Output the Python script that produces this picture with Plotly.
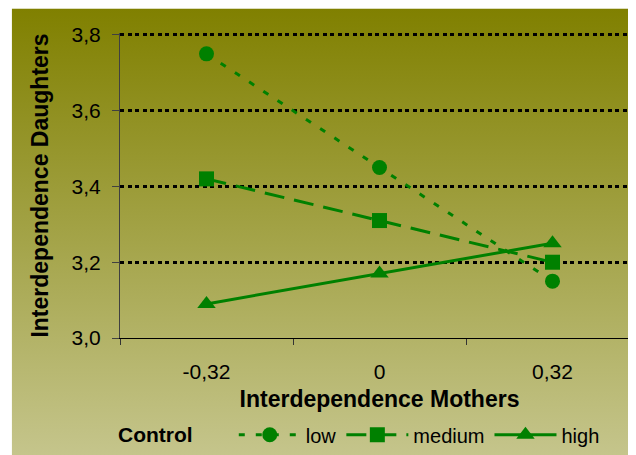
import base64
import plotly.graph_objects as go

# ---- data ----
categories = ["-0,32", "0", "0,32"]
low = [3.75, 3.45, 3.15]
medium = [3.42, 3.31, 3.20]
high = [3.09, 3.17, 3.25]
series_names = ["low", "medium", "high"]
y_tickvals = [3.0, 3.2, 3.4, 3.6, 3.8]
y_ticktext = ["3,0", "3,2", "3,4", "3,6", "3,8"]
y_range = [3.0, 3.805]

FONT = "Liberation Sans, Arial, sans-serif"
GREEN = "#008000"

# background gradient (olive -> light khaki) as an SVG image
svg = (
    '<svg xmlns="http://www.w3.org/2000/svg" width="633" height="455" '
    'preserveAspectRatio="none"><defs><linearGradient id="g" x1="0" y1="0" x2="0" y2="1">'
    '<stop offset="0" stop-color="#808000"/><stop offset="1" stop-color="#c6c68e"/>'
    '</linearGradient></defs><rect width="633" height="455" fill="url(#g)"/></svg>'
)
bg_src = "data:image/svg+xml;base64," + base64.b64encode(svg.encode()).decode()

W, H = 636, 455
PX_PER_UNIT = 380.0
BOTTOM = 330.5
ML, MR, MB = 111.5, 4.5, H - BOTTOM
MT = BOTTOM - (y_range[1] - y_range[0]) * PX_PER_UNIT
pw = W - ML - MR
ph = H - MT - MB

def px_x(v):
    return (v - ML) / pw

def px_y(v):
    return 1 - (v - MT) / ph

fig = go.Figure()
styles = [
    dict(dash="6px,11px", symbol="circle", size=15),
    dict(dash="20px,10px", symbol="square", size=15),
    dict(dash="solid", symbol="triangle-up", size=16),
]
for name, vals, st in zip(series_names, [low, medium, high], styles):
    fig.add_trace(go.Scatter(
        x=categories, y=vals, name=name, mode="lines+markers",
        line=dict(color=GREEN, width=3, dash=st["dash"]),
        marker=dict(symbol=st["symbol"], size=st["size"], color=GREEN),
    ))

fig.add_layout_image(dict(
    source=bg_src, xref="paper", yref="paper",
    x=px_x(3), y=px_y(0), sizex=(W - 3) / pw, sizey=H / ph,
    xanchor="left", yanchor="top", sizing="stretch", layer="below",
))

fig.add_annotation(
    text="<b>Control</b>", xref="paper", yref="paper",
    x=px_x(107), y=px_y(427), xanchor="left", yanchor="middle",
    showarrow=False, font=dict(size=21, color="black"),
)

fig.update_layout(
    width=W, height=H,
    margin=dict(l=ML, r=MR, t=MT, b=MB, autoexpand=False),
    paper_bgcolor="white", plot_bgcolor="rgba(0,0,0,0)",
    font=dict(family=FONT, color="black", size=20),
    showlegend=True,
    legend=dict(
        orientation="h", x=px_x(225.5), xanchor="left", y=px_y(427.5), yanchor="middle",
        font=dict(size=20), itemwidth=62, bgcolor="rgba(0,0,0,0)",
    ),
    xaxis=dict(
        type="category", range=[-0.5, 2.5], showgrid=False,
        showline=True, linecolor="black", linewidth=1,
        ticks="outside", tickson="boundaries", ticklen=6, tickcolor="#333",
        tickfont=dict(size=21), ticklabelstandoff=15,
        title=dict(text="<b>Interdependence Mothers</b>", font=dict(size=23), standoff=8),
        zeroline=False,
    ),
    yaxis=dict(
        range=y_range, tickvals=y_tickvals, ticktext=y_ticktext,
        showline=True, linecolor="#404040", linewidth=1,
        ticks="outside", ticklen=7, tickcolor="#404040",
        tickfont=dict(size=21), ticklabelstandoff=7,
        showgrid=True, gridcolor="black", gridwidth=2.5, griddash="4px,3.5px",
        title=dict(text="<b>Interdependence Daughters</b>", font=dict(size=23), standoff=16),
        zeroline=False,
    ),
)

fig.write_html("out.html")
